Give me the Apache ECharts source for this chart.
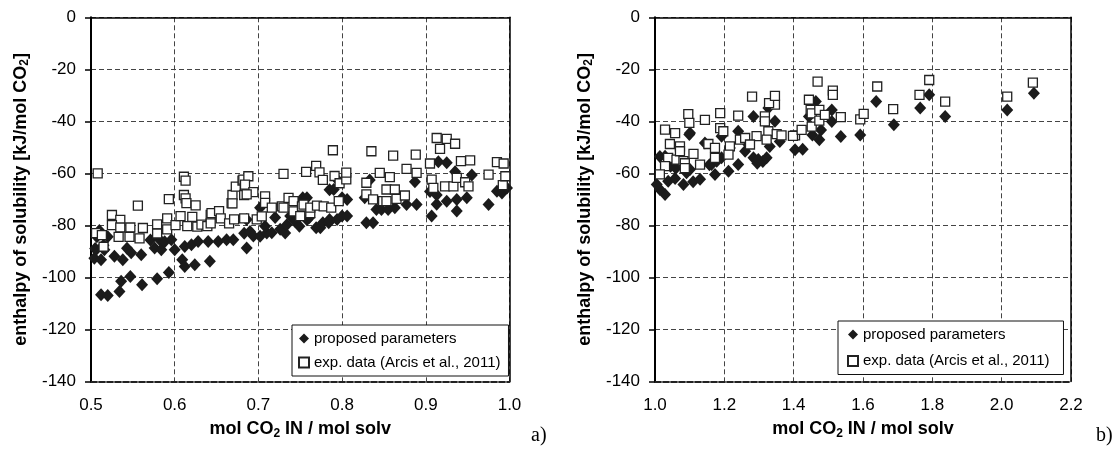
<!DOCTYPE html>
<html>
<head>
<meta charset="utf-8">
<script src="https://cdn.jsdelivr.net/npm/echarts@6/dist/echarts.min.js"></script>
<style>
html,body{margin:0;padding:0;background:#fff;}
#c{width:1118px;height:449px;}
</style>
</head>
<body>
<div id="c"></div>
<script>
// ---- data ----
const seriesNames = ['proposed parameters', 'exp. data (Arcis et al., 2011)'];
const yAxisTitle = 'enthalpy of solubility [kJ/mol CO{sub|2}]';
const xAxisTitle = 'mol CO{sub|2} IN / mol solv';
const panelLabels = ['a)', 'b)'];
const yRange = [-140, 0, 20];
const xRangeLeft = [0.5, 1.0, 0.1];
const xRangeRight = [1.0, 2.2, 0.2];

const leftProposed = [
[0.504,-92.6],[0.506,-89.4],[0.505,-88.9],[0.507,-84.4],[0.510,-82.0],[0.512,-93.2],[0.515,-87.6],[0.516,-89.4],[0.520,-84.4],[0.528,-91.9],[0.538,-93.2],[0.543,-88.8],[0.548,-90.5],[0.560,-91.3],
[0.512,-106.7],[0.520,-106.9],[0.534,-105.4],[0.536,-101.5],[0.547,-99.6],[0.561,-102.8],[0.579,-100.5],[0.593,-98.1],
[0.609,-93.2],[0.612,-95.8],[0.624,-95.1],[0.642,-93.8],
[0.571,-85.6],[0.576,-88.7],[0.582,-85.5],[0.584,-89.4],[0.588,-86.3],[0.596,-85.5],[0.600,-89.4],[0.612,-88.1],[0.620,-87.4],
[0.628,-86.2],[0.640,-86.2],[0.652,-86.2],[0.662,-85.5],[0.670,-85.5],[0.683,-83.0],
[0.686,-88.7],[0.690,-82.3],[0.694,-84.1],[0.702,-84.2],[0.710,-82.9],[0.716,-82.8],[0.708,-80.3],[0.686,-77.7],[0.702,-73.2],[0.720,-77.0],[0.726,-81.5],[0.732,-82.9],[0.734,-79.7],[0.738,-76.4],[0.744,-78.5],[0.749,-80.3],[0.758,-77.8],[0.761,-77.0],[0.769,-80.9],[0.774,-80.9],[0.777,-79.0],[0.784,-79.0],[0.785,-77.7],[0.794,-77.7],[0.800,-76.4],[0.806,-76.4],
[0.750,-71.3],[0.753,-69.4],[0.758,-69.4],[0.785,-66.3],[0.790,-66.2],[0.796,-63.0],[0.800,-69.4],[0.806,-70.0],
[0.827,-69.4],[0.829,-79.0],[0.837,-79.0],[0.833,-62.5],[0.841,-73.9],[0.847,-73.9],[0.855,-73.9],[0.863,-73.2],[0.877,-72.0],[0.889,-72.0],[0.887,-63.2],
[0.905,-67.0],[0.907,-76.4],[0.913,-71.9],[0.913,-68.3],[0.925,-70.7],[0.937,-70.0],[0.949,-69.4],[0.937,-74.5],[0.915,-55.5],[0.925,-55.9],[0.935,-59.4],[0.955,-60.6],[0.975,-72.0],[0.985,-66.9],[0.991,-67.5],[0.997,-65.6]
];

const leftExp = [
[0.508,-60.0],[0.506,-83.0],[0.513,-83.7],[0.515,-88.2],[0.525,-76.0],[0.535,-77.9],[0.525,-79.9],[0.535,-80.8],[0.547,-80.8],[0.562,-81.0],[0.533,-84.4],[0.546,-84.4],[0.558,-85.0],[0.556,-72.4],
[0.579,-79.6],[0.579,-83.1],[0.591,-81.5],[0.591,-77.3],[0.593,-69.9],[0.601,-79.9],[0.607,-76.4],[0.611,-61.3],[0.613,-62.8],[0.611,-68.3],[0.613,-69.6],[0.614,-71.4],[0.615,-80.3],[0.621,-76.7],[0.625,-72.3],[0.627,-80.5],[0.632,-79.7],[0.639,-80.3],[0.643,-76.0],[0.644,-75.3],[0.643,-79.2],[0.653,-74.5],[0.655,-77.3],[0.665,-79.2],[0.668,-71.4],[0.669,-68.3],[0.669,-71.5],[0.671,-77.7],[0.673,-65.1],[0.681,-62.8],[0.683,-68.3],[0.683,-77.3],
[0.682,-62.4],[0.688,-61.1],[0.684,-64.3],[0.694,-67.2],[0.686,-68.1],[0.698,-77.7],[0.704,-76.5],[0.708,-68.8],[0.708,-71.3],[0.716,-73.2],[0.728,-72.7],[0.730,-73.2],[0.730,-60.2],[0.736,-69.4],[0.742,-70.7],[0.742,-74.6],[0.750,-76.4],[0.752,-72.7],[0.754,-72.0],[0.757,-59.4],[0.762,-75.3],[0.762,-73.2],[0.769,-57.1],[0.770,-72.4],[0.773,-59.6],[0.777,-62.5],[0.778,-72.7],[0.787,-73.2],[0.789,-51.1],[0.791,-61.0],[0.796,-70.7],[0.797,-63.8],[0.805,-62.3],[0.805,-59.7],
[0.829,-63.6],[0.829,-68.1],[0.835,-51.5],[0.837,-70.0],[0.845,-59.8],[0.849,-70.7],[0.853,-66.2],[0.853,-70.7],[0.857,-61.4],[0.861,-53.2],[0.863,-66.2],[0.865,-69.8],[0.875,-68.5],[0.877,-58.3],[0.888,-52.8],[0.889,-59.8],
[0.905,-56.2],[0.907,-62.4],[0.909,-65.6],[0.913,-46.4],[0.917,-50.6],[0.923,-65.0],[0.925,-46.7],[0.933,-65.0],[0.935,-48.6],[0.937,-61.7],[0.942,-55.3],[0.947,-63.4],[0.951,-65.0],[0.953,-55.0],[0.975,-60.5],[0.985,-55.7],[0.992,-64.5],[0.993,-56.2],[0.995,-61.1]
];

const rightProposed = [
[1.029,-68.1],[1.014,-66.2],[1.005,-64.3],[1.038,-63.0],[1.058,-62.0],[1.082,-64.3],[1.110,-63.2],[1.130,-62.3],[1.173,-60.4],[1.212,-59.2],[1.240,-56.6],[1.029,-53.4],[1.014,-53.5],[1.045,-57.3],[1.060,-58.0],[1.091,-59.8],[1.101,-58.5],[1.157,-56.7],[1.163,-56.6],[1.178,-55.3],[1.192,-54.0],[1.192,-45.7],[1.144,-48.3],[1.099,-45.1],[1.101,-44.5],[1.216,-50.2],[1.240,-43.8],[1.260,-51.5],[1.269,-48.9],[1.284,-54.0],[1.295,-56.1],[1.298,-54.7],[1.311,-55.4],[1.322,-54.0],[1.331,-49.7],[1.284,-38.1],[1.327,-34.9],[1.346,-40.0],[1.360,-47.7],[1.404,-50.9],[1.426,-50.7],
[1.444,-38.1],[1.454,-45.2],[1.464,-32.4],[1.474,-47.1],[1.479,-43.3],[1.510,-35.6],[1.510,-40.1],[1.536,-45.8],[1.592,-45.2],[1.638,-32.4],[1.689,-41.3],[1.765,-34.9],[1.791,-29.8],[1.837,-38.1],[2.016,-35.6],[2.093,-29.2]
];

const rightExp = [
[1.096,-37.2],[1.188,-36.8],[1.240,-37.8],[1.144,-39.4],[1.099,-40.6],[1.029,-43.2],[1.058,-44.5],[1.043,-48.7],[1.072,-49.6],[1.111,-52.5],[1.173,-54.0],[1.130,-56.6],[1.038,-54.0],[1.062,-54.7],[1.082,-55.3],[1.072,-51.5],[1.029,-57.2],[1.014,-60.4],[1.086,-56.1],[1.086,-58.0],[1.188,-42.6],[1.197,-43.8],[1.154,-48.7],[1.173,-50.2],[1.216,-49.6],[1.212,-52.8],[1.245,-47.0],[1.260,-46.4],[1.293,-45.7],[1.274,-48.9],[1.317,-38.1],[1.317,-40.0],[1.327,-43.8],[1.322,-47.0],[1.351,-44.9],[1.365,-45.4],[1.346,-33.6],[1.404,-45.4],
[1.280,-30.5],[1.329,-33.0],[1.346,-30.2],[1.398,-45.6],[1.423,-43.3],[1.444,-31.7],[1.449,-35.6],[1.452,-36.9],[1.452,-42.0],[1.469,-24.7],[1.474,-35.6],[1.474,-39.7],[1.490,-37.5],[1.513,-28.2],[1.513,-29.8],[1.536,-38.4],[1.592,-39.2],[1.602,-37.1],[1.641,-26.6],[1.687,-35.3],[1.763,-29.8],[1.791,-24.1],[1.837,-32.4],[2.016,-30.5],[2.090,-25.1]
];

// ---- styling ----
const FONT = '"Liberation Sans", Arial, sans-serif';
const grids = [
  {left: 91, top: 17.3, width: 418.5, height: 364.2},
  {left: 655, top: 17.3, width: 416, height: 364.2}
];
const subRich = { sub: { fontFamily: FONT, fontSize: 12, fontWeight: 'bold', color: '#000', verticalAlign: 'bottom', padding: [8, 0, 0, 0] } };

function bottomX(gi, r) {
  return {
    type: 'value', gridIndex: gi, min: r[0], max: r[1], interval: r[2], position: 'bottom',
    axisLine: {show: true, onZero: false, lineStyle: {color: '#222', width: 1.8, type: [6, 2]}},
    axisTick: {show: false},
    axisLabel: {fontFamily: FONT, fontSize: 17, color: '#000', margin: 15, formatter: v => v.toFixed(1)},
    splitLine: {show: true, lineStyle: {color: '#444', width: 1, type: [5, 3]}},
    name: xAxisTitle, nameLocation: 'middle', nameGap: 38,
    nameTextStyle: {fontFamily: FONT, fontSize: 18, fontWeight: 'bold', color: '#000', rich: subRich}
  };
}
function topX(gi) {
  return {type: 'value', gridIndex: gi, min: 0, max: 1, position: 'top',
    axisLine: {show: true, onZero: false, lineStyle: {color: '#000', width: 1.5}},
    axisTick: {show: false}, axisLabel: {show: false}, splitLine: {show: false}};
}
function leftY(gi) {
  return {
    type: 'value', gridIndex: gi, min: yRange[0], max: yRange[1], interval: yRange[2], position: 'left',
    axisLine: {show: true, onZero: false, lineStyle: {color: '#000', width: 2}},
    axisTick: {show: true, inside: false, length: 6, lineStyle: {color: '#000', width: 1.5}},
    axisLabel: {fontFamily: FONT, fontSize: 17, color: '#000', margin: 15},
    splitLine: {show: true, lineStyle: {color: '#444', width: 1, type: [5, 3]}},
    name: yAxisTitle, nameLocation: 'middle', nameGap: 60, nameRotate: 90,
    nameTextStyle: {fontFamily: FONT, fontSize: 18, fontWeight: 'bold', color: '#000', rich: subRich}
  };
}
function rightY(gi) {
  return {type: 'value', gridIndex: gi, min: 0, max: 1, position: 'right',
    axisLine: {show: true, onZero: false, lineStyle: {color: '#000', width: 1.5}},
    axisTick: {show: false}, axisLabel: {show: false}, splitLine: {show: false}};
}
function diamondSeries(xi, yi, data) {
  return {name: seriesNames[0], type: 'scatter', xAxisIndex: xi, yAxisIndex: yi, data: data,
    symbol: 'diamond', symbolSize: [12, 13], itemStyle: {color: '#1b1b1b', opacity: 1}, z: 2,
    emphasis: {disabled: true}, silent: true};
}
function squareSeries(xi, yi, data) {
  return {name: seriesNames[1], type: 'scatter', xAxisIndex: xi, yAxisIndex: yi, data: data,
    symbol: 'rect', symbolSize: 9, itemStyle: {color: '#fff', borderColor: '#222', borderWidth: 1.3, opacity: 1}, z: 3,
    emphasis: {disabled: true}, silent: true};
}
function legendAt(left, top, pad, gap) {
  return {
    show: true, orient: 'vertical', left: left, top: top, data: seriesNames,
    backgroundColor: '#fff', borderColor: '#111', borderWidth: 1,
    padding: pad, itemGap: gap, itemWidth: 10, itemHeight: 10,
    textStyle: {fontFamily: FONT, fontSize: 15, color: '#000'},
    selectedMode: false
  };
}

const chart = echarts.init(document.getElementById('c'), null, {renderer: 'canvas'});
chart.setOption({
  animation: false,
  backgroundColor: '#fff',
  grid: grids.map(g => Object.assign({containLabel: false, outerBoundsMode: 'none'}, g)),
  xAxis: [bottomX(0, xRangeLeft), topX(0), bottomX(1, xRangeRight), topX(1)],
  yAxis: [leftY(0), rightY(0), leftY(1), rightY(1)],
  legend: [legendAt(292, 325, [6, 8, 6, 6], 9), legendAt(838, 321, [6, 14, 6, 9], 11.5)],
  series: [
    diamondSeries(0, 0, leftProposed), squareSeries(0, 0, leftExp),
    diamondSeries(2, 2, rightProposed), squareSeries(2, 2, rightExp)
  ],
  graphic: [
    {type: 'text', left: 531, top: 426, style: {text: panelLabels[0], font: '20px "Liberation Serif", "Times New Roman", serif', fill: '#000'}},
    {type: 'text', left: 1096, top: 426, style: {text: panelLabels[1], font: '20px "Liberation Serif", "Times New Roman", serif', fill: '#000'}}
  ]
});
</script>
</body>
</html>
